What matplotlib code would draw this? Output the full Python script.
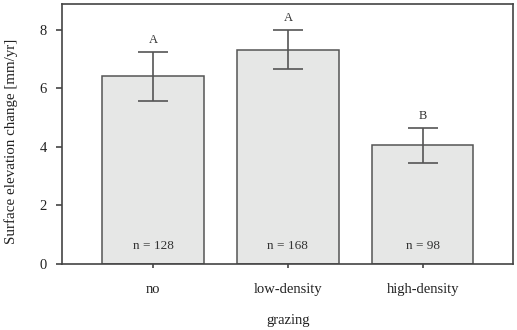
import matplotlib.pyplot as plt

categories = ["no", "low-density", "high-density"]
means = [6.41, 7.32, 4.05]
err_low = [5.57, 6.65, 3.45]
err_high = [7.25, 8.00, 4.65]
letters = ["A", "A", "B"]
n_labels = ["n = 128", "n = 168", "n = 98"]

plt.rcParams["font.family"] = ["Liberation Serif", "DejaVu Serif"]

fig = plt.figure(figsize=(5.17, 3.30), dpi=100)
ax = fig.add_axes([0.120, 0.200, 0.872, 0.788])

x = list(range(len(categories)))
yerr = [[m - lo for m, lo in zip(means, err_low)],
        [hi - m for m, hi in zip(means, err_high)]]

ax.bar(x, means, width=0.75, color="#e6e7e6", edgecolor="#555555",
       linewidth=1.1, zorder=2)
ax.errorbar(x, means, yerr=yerr, fmt="none", ecolor="#555555",
            elinewidth=1.2, capsize=11, capthick=1.2, zorder=3)

# significance letters above the error bars
for xi, hi, lab in zip(x, err_high, letters):
    ax.annotate(lab, (xi, hi), xytext=(0, 4), textcoords="offset points",
                ha="center", va="bottom", fontsize=9, color="#333333")

# sample sizes inside the bars
for xi, lab in zip(x, n_labels):
    ax.text(xi, 0.6, lab, ha="center", va="center", fontsize=9.5, color="#333333")

ax.set_xlim(-0.674, 2.667)
ax.set_ylim(0, 8.88)
ax.set_yticks([0, 2, 4, 6, 8])
ax.set_xticks(x)
ax.set_xticklabels(categories)

for sp in ax.spines.values():
    sp.set_color("#444444")
    sp.set_linewidth(1.2)

ax.tick_params(axis="y", direction="out", length=4, width=1.2, pad=7,
               labelsize=10.5, colors="#444444", labelcolor="#222222")
ax.tick_params(axis="x", direction="out", length=3, width=1.2, pad=11,
               labelsize=10.5, colors="#444444", labelcolor="#222222")

ax.set_ylabel("Surface elevation change [mm/yr]", fontsize=10.8, color="#222222")
ax.yaxis.set_label_coords(-0.097, 0.472)
ax.set_xlabel("grazing", fontsize=10.5, color="#222222")
ax.xaxis.set_label_coords(0.501, -0.192)

fig.savefig("out.png", dpi=100)
